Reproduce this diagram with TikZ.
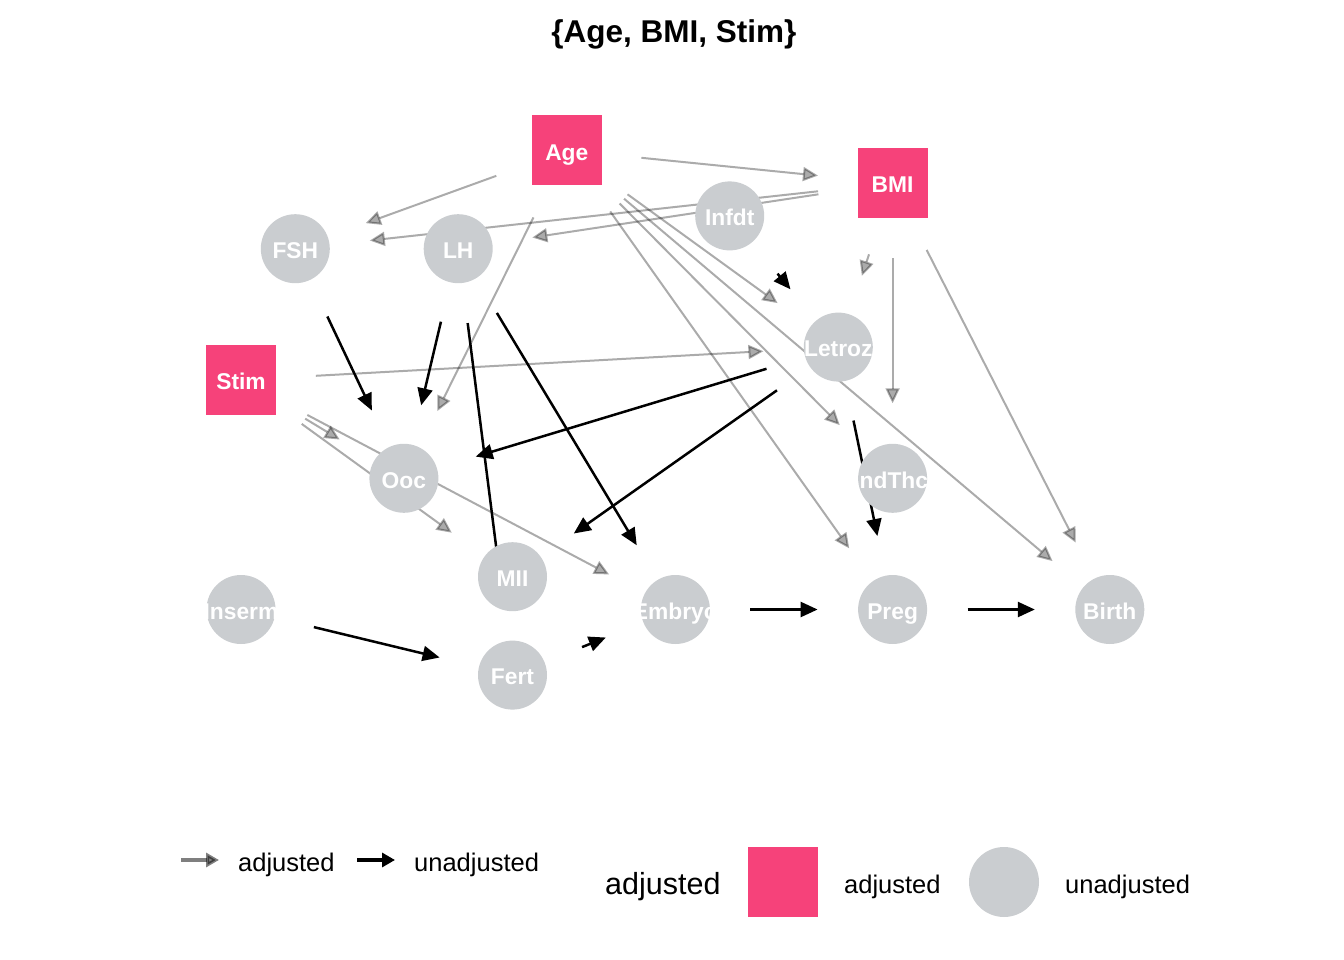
\documentclass[tikz,border=0pt]{standalone}
\usepackage{fontspec}
\setmainfont{Liberation Sans}
\usetikzlibrary{arrows.meta}
\definecolor{adjpink}{RGB}{246,66,122}
\definecolor{unadjgray}{RGB}{202,205,208}
\pgfdeclarelayer{edgelayer}
\pgfsetlayers{edgelayer,main}
\newcommand{\lbl}[1]{\makebox[0pt][c]{#1}}
\begin{document}
\begin{tikzpicture}[x=1pt,y=-1pt,
  nodefont/.style={font=\fontsize{22.8}{24}\bfseries\selectfont, text=white, text height=19.6pt, text depth=0pt},
  sq/.style={rectangle, fill=adjpink, minimum size=70pt, inner sep=0pt, nodefont},
  ci/.style={circle, fill=unadjgray, minimum size=69pt, inner sep=0pt, nodefont},
  adj/.style={draw=black, opacity=0.33, line width=2pt, -{Triangle[length=15pt,width=14pt]}, shorten <=75pt, shorten >=75pt},
  unadj/.style={draw=black, line width=2.5pt, -{Triangle[length=17pt,width=15pt]}, shorten <=75pt, shorten >=75pt},
  legtxt/.style={font=\fontsize{25.5}{28}\selectfont, inner sep=0pt, anchor=base west},
  legtitle/.style={font=\fontsize{30.5}{34}\selectfont, inner sep=0pt, anchor=base west}
]
\useasboundingbox (0,0) rectangle (1344,960);

% title
\node[font=\fontsize{31.5}{36}\bfseries\selectfont, anchor=base, inner sep=0pt] (title) at (674,42.5) {\{Age, BMI, Stim\}};

% nodes
\node[sq] (Age) at (566.8,150.3) {\lbl{Age}};
\node[sq] (BMI) at (892.6,183.1) {\lbl{BMI}};
\node[sq] (Stim) at (241,379.9) {\lbl{Stim}};
\node[ci] (Infdt) at (729.7,215.9) {\lbl{Infdt}};
\node[ci] (FSH) at (295.3,248.7) {\lbl{FSH}};
\node[ci] (LH) at (458.2,248.7) {\lbl{LH}};
\node[ci] (Letroz) at (838.3,347.1) {\lbl{Letroz}};
\node[ci] (Ooc) at (403.9,478.3) {\lbl{Ooc}};
\node[ci] (EndThck) at (892.6,478.3) {\lbl{EndThck}};
\node[ci] (MII) at (512.5,576.7) {\lbl{MII}};
\node[ci] (Inserm) at (241,609.5) {\lbl{Inserm}};
\node[ci] (Embryo) at (675.4,609.5) {\lbl{Embryo}};
\node[ci] (Preg) at (892.6,609.5) {\lbl{Preg}};
\node[ci] (Birth) at (1109.8,609.5) {\lbl{Birth}};
\node[ci] (Fert) at (512.5,675.1) {\lbl{Fert}};

\begin{pgfonlayer}{edgelayer}
% adjusted (grey) edges
\draw[adj] (Age.center) -- (BMI.center);
\draw[adj] (Age.center) -- (FSH.center);
\draw[adj] (Age.center) -- (Ooc.center);
\draw[adj] (Age.center) -- (Letroz.center);
\draw[adj] (Age.center) -- (EndThck.center);
\draw[adj] (Age.center) -- (Preg.center);
\draw[adj] (Age.center) -- (Birth.center);
\draw[adj] (BMI.center) -- (FSH.center);
\draw[adj] (BMI.center) -- (LH.center);
\draw[adj] (BMI.center) -- (Letroz.center);
\draw[adj] (BMI.center) -- (EndThck.center);
\draw[adj] (BMI.center) -- (Birth.center);
\draw[adj] (Stim.center) -- (Letroz.center);
\draw[adj] (Stim.center) -- (Ooc.center);
\draw[adj] (Stim.center) -- (MII.center);
\draw[adj] (Stim.center) -- (Embryo.center);
% unadjusted (black) edges
\draw[unadj] (Infdt.center) -- (Letroz.center);
\draw[unadj] (FSH.center) -- (Ooc.center);
\draw[unadj] (LH.center) -- (Ooc.center);
\draw[unadj] (LH.center) -- (Embryo.center);
\draw[unadj] (LH.center) -- (Fert.center);
\draw[unadj] (Letroz.center) -- (Ooc.center);
\draw[unadj] (Letroz.center) -- (MII.center);
\draw[unadj] (Letroz.center) -- (Preg.center);
\draw[unadj] (Inserm.center) -- (Fert.center);
\draw[unadj] (Fert.center) -- (Embryo.center);
\draw[unadj] (Embryo.center) -- (Preg.center);
\draw[unadj] (Preg.center) -- (Birth.center);
\end{pgfonlayer}

% legend: edges
\coordinate (la1) at (181,860);
\coordinate (la2) at (219,860);
\coordinate (lb1) at (357,860);
\coordinate (lb2) at (395,860);
\draw[draw=black, opacity=0.5, line width=3.2pt, -{Triangle[length=13pt,width=14pt]}] (la1) -- (la2);
\draw[draw=black, line width=3.2pt, -{Triangle[length=13pt,width=14pt]}] (lb1) -- (lb2);
\node[legtxt] (legA) at (238,871) {adjusted};
\node[legtxt] (legU) at (414,871) {unadjusted};

% legend: nodes
\node[legtitle] (legT) at (605,894) {adjusted};
\node[rectangle, fill=adjpink, minimum size=70pt, inner sep=0pt] (legSq) at (783,882) {};
\node[circle, fill=unadjgray, minimum size=70pt, inner sep=0pt] (legCi) at (1004,882) {};
\node[legtxt] (legA2) at (844,893) {adjusted};
\node[legtxt] (legU2) at (1065,893) {unadjusted};
\end{tikzpicture}
\end{document}
